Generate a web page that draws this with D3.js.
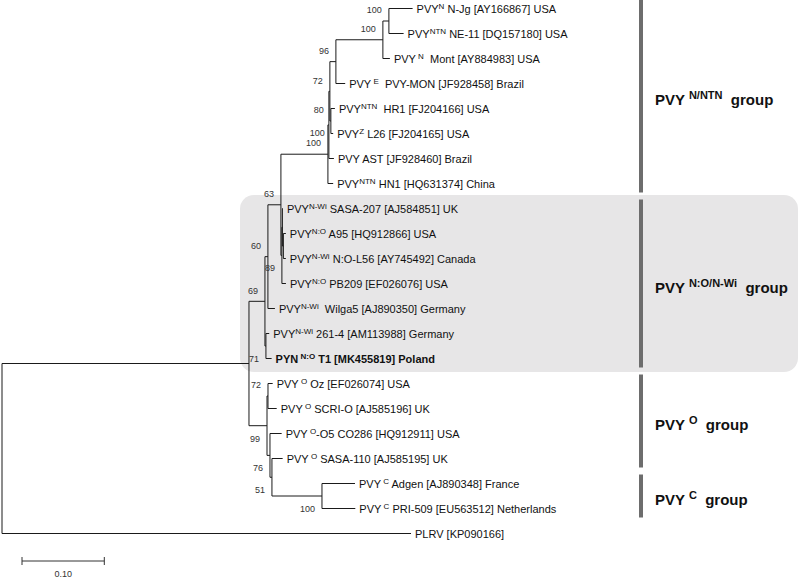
<!DOCTYPE html>
<html><head><meta charset="utf-8">
<script src="https://cdn.jsdelivr.net/npm/d3@7"></script>
<style>
body{margin:0;background:#fff}
svg{display:block}
text{font-family:"Liberation Sans",Arial,sans-serif;white-space:pre}
</style>
</head><body>
<svg id="c" width="800" height="580"></svg>
<script>
// Tree: [id, parent, branch length, bootstrap, label side]
const branches = [
  ["root", "", 0],
  ["A", "root", 0.3001],
  ["N69", "A", 0.0194, 69, "a"],
  ["N60", "N69", 0.0036, 60, "a"],
  ["B", "N60", 0.0158, 63, "a"],
  ["N0", "B", 0.0571, 100, "a"],
  ["N124", "N0", 0.0012, 100, "m"],
  ["N91", "N124", 0.0012, 72, "a"],
  ["N96", "N91", 0.0073, 96, "a"],
  ["N100b", "N96", 0.0571, 100, "a"],
  ["N100a", "N100b", 0.0073, 100, "a"],
  ["L1", "N100a", 0.0288],
  ["L2", "N100a", 0.0179],
  ["L3", "N100b", 0.0085],
  ["L4", "N96", 0.0113],
  ["NHL", "N91", 0.0012, 80, "a"],
  ["L5", "NHL", 0.0049],
  ["L6", "NHL", 0.0028],
  ["L7", "N124", 0.0061],
  ["L8", "N0", 0.0064],
  ["C", "B", 0.0012, 89, "b"],
  ["CS", "C", 0.0006],
  ["L9", "CS", 0.0006],
  ["E", "CS", 0.0012],
  ["L10", "E", 0.0030],
  ["L11", "E", 0.0030],
  ["L12", "C", 0.0049],
  ["L13", "N60", 0.0085],
  ["N71", "N69", 0.0012, 71, "b"],
  ["L14", "N71", 0.0040],
  ["L15", "N71", 0.0069],
  ["O99", "A", 0.0219, 99, "b"],
  ["O72", "O99", 0.0012, 72, "a"],
  ["L16", "O72", 0.0057],
  ["L17", "O72", 0.0106],
  ["O76", "O99", 0.0036, 76, "b"],
  ["L18", "O76", 0.0142],
  ["O51", "O76", 0.0024, 51, "b"],
  ["L19", "O51", 0.0130],
  ["C100", "O51", 0.0608, 100, "b"],
  ["L20", "C100", 0.0401],
  ["L21", "C100", 0.0405],
  ["L22", "root", 0.4970]
];

// Leaf labels (in order L1..L22)
const leafPrefix = ["PVY","PVY","PVY","PVY","PVY","PVY","PVY AST [JF928460] Brazil","PVY",
  "PVY","PVY","PVY","PVY","PVY","PVY","PYN",
  "PVY","PVY","PVY","PVY","PVY","PVY","PLRV [KP090166]"];
const leafSup = ["N","NTN"," N"," E","NTN","Z","","NTN",
  "N-Wi","N:O","N-Wi","N:O","N-Wi","N-Wi"," N:O",
  " O"," O"," O"," O"," C"," C",""];
const leafRest = [" N-Jg [AY166867] USA"," NE-11 [DQ157180] USA","  Mont [AY884983] USA","  PVY-MON [JF928458] Brazil",
  "  HR1 [FJ204166] USA"," L26 [FJ204165] USA",""," HN1 [HQ631374] China",
  " SASA-207 [AJ584851] UK"," A95 [HQ912866] USA"," N:O-L56 [AY745492] Canada"," PB209 [EF026076] USA",
  "  Wilga5 [AJ890350] Germany"," 261-4 [AM113988] Germany"," T1 [MK455819] Poland",
  " Oz [EF026074] USA"," SCRI-O [AJ585196] UK","-O5 CO286 [HQ912911] USA"," SASA-110 [AJ585195] UK",
  " Adgen [AJ890348] France"," PRI-509 [EU563512] Netherlands",""];
const boldLeaves = [14];

// Groups (first/last leaf index)
const groupSup = ["N/NTN","N:O/N-Wi","O","C"];
const groupFirst = [0, 8, 15, 19];
const groupLast = [7, 14, 18, 20];
const shadedGroup = 1;

const scaleBarValue = 0.10;
const scaleBarLabel = "0.10";

// ---------- drawing ----------
const svg = d3.select("#c");
const root = d3.stratify().id(d => d[0]).parentId(d => d[1] || null)(branches);
root.eachBefore(n => { n.len = n.parent ? n.parent.len + n.data[2] : 0; });
let li = 0;
root.eachBefore(n => { if (!n.children) n.leafIndex = li++; });

const x = d3.scaleLinear().domain([0, 0.1]).range([2, 84.3]);
const y = d3.scaleLinear().domain([0, li - 1]).range([8.5, 533.5]);
root.eachAfter(n => {
  n.py = n.children ? (n.children[0].py + n.children[n.children.length - 1].py) / 2 : y(n.leafIndex);
});

// shaded box
svg.append("rect")
  .attr("x", 240).attr("y", y(groupFirst[shadedGroup]) - 13.5)
  .attr("width", 558).attr("height", y(groupLast[shadedGroup]) - y(groupFirst[shadedGroup]) + 27)
  .attr("rx", 14).attr("fill", "#e7e6e7");

const g = svg.append("g").attr("stroke", "#1a1a1a").attr("stroke-width", 1).attr("fill", "none");
root.descendants().filter(n => n.parent).forEach(n => {
  g.append("line").attr("x1", x(n.parent.len)).attr("x2", x(n.len)).attr("y1", n.py).attr("y2", n.py);
});
root.descendants().filter(n => n.children).forEach(n => {
  const c = n.children;
  g.append("line").attr("x1", x(n.len)).attr("x2", x(n.len)).attr("y1", c[0].py).attr("y2", c[c.length - 1].py);
});

// bootstrap labels
root.descendants().filter(n => n.data[3] != null).forEach(n => {
  const side = n.data[4];
  svg.append("text").attr("text-anchor", "end")
    .attr("x", x(n.len) - (side === "m" ? 4 : 7))
    .attr("y", side === "b" ? n.py + 16 : side === "m" ? n.py + 11 : n.py - 7.8)
    .attr("font-size", 9).attr("fill", "#333").text(n.data[3]);
});

// leaf labels
root.leaves().forEach(n => {
  const i = n.leafIndex;
  const t = svg.append("text").attr("x", x(n.len) + 4).attr("y", n.py + 4)
    .attr("font-size", 11).attr("fill", "#111")
    .attr("font-weight", boldLeaves.includes(i) ? "bold" : "normal");
  t.append("tspan").text(leafPrefix[i]);
  if (leafSup[i]) {
    t.append("tspan").attr("dy", -4).attr("font-size", 8).text(leafSup[i]);
    t.append("tspan").attr("dy", 4).text(leafRest[i]);
  }
});

// group bars and labels
groupSup.forEach((s, k) => {
  const y0 = y(groupFirst[k]) - 9, y1 = y(groupLast[k]) + 9;
  svg.append("line").attr("x1", 641).attr("x2", 641).attr("y1", Math.max(0, y0)).attr("y2", y1)
    .attr("stroke", "#6d6d6d").attr("stroke-width", 4);
  const t = svg.append("text").attr("x", 655).attr("y", (y0 + y1) / 2 + 9)
    .attr("font-size", 15).attr("font-weight", "bold").attr("fill", "#111");
  t.append("tspan").text("PVY ");
  t.append("tspan").attr("dy", -6).attr("font-size", 11).text(s);
  t.append("tspan").attr("dy", 6).text("  group");
});

// scale bar
const sb = svg.append("g").attr("stroke", "#333").attr("stroke-width", 1);
const sx0 = 22, sx1 = sx0 + x(scaleBarValue) - x(0), sy = 561;
sb.append("line").attr("x1", sx0).attr("x2", sx1).attr("y1", sy).attr("y2", sy);
sb.append("line").attr("x1", sx0).attr("x2", sx0).attr("y1", sy - 4).attr("y2", sy + 4);
sb.append("line").attr("x1", sx1).attr("x2", sx1).attr("y1", sy - 4).attr("y2", sy + 4);
svg.append("text").attr("x", (sx0 + sx1) / 2).attr("y", 577).attr("text-anchor", "middle")
  .attr("font-size", 9).attr("fill", "#333").text(scaleBarLabel);
</script>
</body></html>
